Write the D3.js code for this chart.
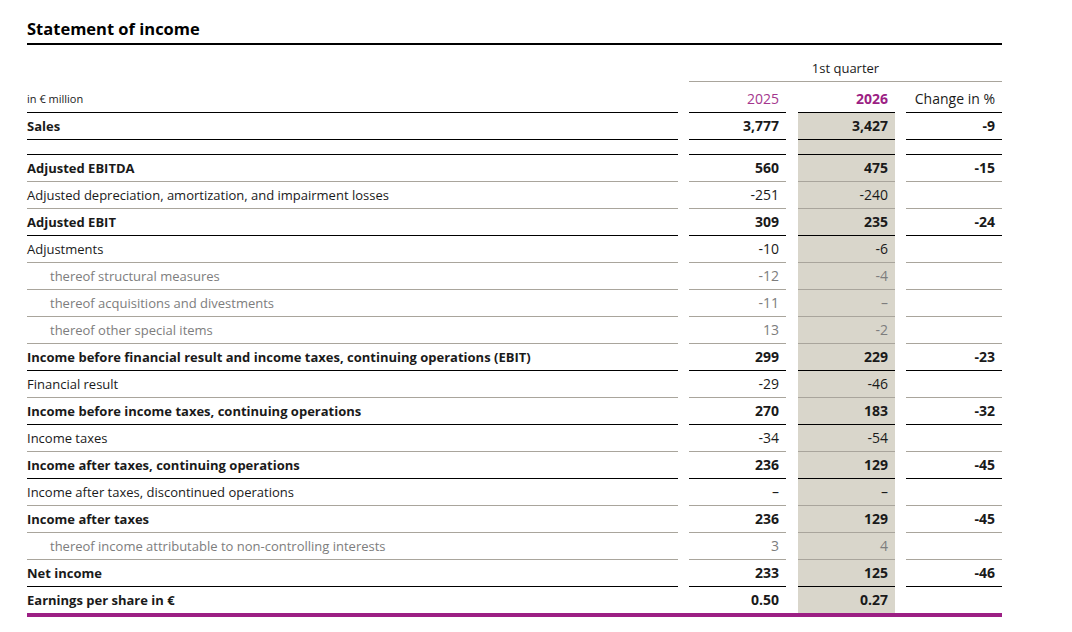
<!DOCTYPE html>
<html>
<head>
<meta charset="utf-8">
<script src="https://cdn.jsdelivr.net/npm/d3@7"></script>
<style>
  html, body { margin: 0; padding: 0; background: #fff; }
  svg { display: block; font-family: "Open Sans", sans-serif; }
</style>
</head>
<body>
<svg id="chart" width="1072" height="632"></svg>
<script>
// ---------------- data ----------------
const title = "Statement of income";
const unitLabel = "in € million";
const periodLabel = "1st quarter";
const columnHeaders = ["2025", "2026", "Change in %"];

const labels = [
  "Sales",
  "Adjusted EBITDA",
  "Adjusted depreciation, amortization, and impairment losses",
  "Adjusted EBIT",
  "Adjustments",
  "thereof structural measures",
  "thereof acquisitions and divestments",
  "thereof other special items",
  "Income before financial result and income taxes, continuing operations (EBIT)",
  "Financial result",
  "Income before income taxes, continuing operations",
  "Income taxes",
  "Income after taxes, continuing operations",
  "Income after taxes, discontinued operations",
  "Income after taxes",
  "thereof income attributable to non-controlling interests",
  "Net income",
  "Earnings per share in €"
];
const rowLevel = ["total","total","item","total","item","sub","sub","sub","total","item","total","item","total","item","total","sub","total","total"];
const values2025 = [3777, 560, -251, 309, -10, -12, -11, 13, 299, -29, 270, -34, 236, null, 236, 3, 233, 0.50];
const values2026 = [3427, 475, -240, 235, -6, -4, null, -2, 229, -46, 183, -54, 129, null, 129, 4, 125, 0.27];
const changePct  = [-9, -15, null, -24, null, null, null, null, -23, null, -32, null, -45, null, -45, null, -46, null];

// ---------------- rendering ----------------
const svg = d3.select("#chart");
const left = 27, right = 1002;
const C = { text: "#1a1a1a", gray: "#7d7d7d", rule: "#a9a59c", black: "#000", purple: "#9c1f84", purpleLight: "#a4368d", shade: "#d9d6cb" };

const cols = [
  { key: "label", x0: left, x1: 678 },
  { key: "y2025", x0: 689, x1: 786 },
  { key: "y2026", x0: 798, x1: 895 },
  { key: "chg",   x0: 906, x1: right }
];
const pad = 7;
const numSize = 14, labelSize = 13;

const rowH = 27;
const yScale = d3.scaleLinear().domain([1, labels.length]).range([154, 154 + (labels.length - 1) * rowH]);
const rowTop = i => i === 0 ? 112 : yScale(i);

const locale = d3.formatLocale({ decimal: ".", thousands: ",", grouping: [3], currency: ["€", ""], minus: "-" });
const fmtInt = locale.format(",d");
const fmtDec = locale.format(".2f");
const fmt = v => v == null ? "–" : (Number.isInteger(v) ? fmtInt(v) : fmtDec(v));

// title
svg.append("text").attr("x", left).attr("y", 35)
  .attr("font-size", 16.5).attr("font-weight", 700).attr("fill", C.black).text(title);
svg.append("line").attr("x1", left).attr("x2", right).attr("y1", 44).attr("y2", 44)
  .attr("stroke", C.black).attr("stroke-width", 2);

// shaded 2026 column
const lastBottom = rowTop(labels.length - 1) + rowH;
svg.append("rect").attr("x", cols[2].x0).attr("y", 112).attr("width", cols[2].x1 - cols[2].x0)
  .attr("height", lastBottom - 112).attr("fill", C.shade);

// period header
svg.append("text").attr("x", (cols[1].x0 + right) / 2).attr("y", 68).attr("dy", "0.35em")
  .attr("text-anchor", "middle").attr("font-size", 13).attr("fill", C.text).text(periodLabel);
svg.append("line").attr("x1", cols[1].x0).attr("x2", right).attr("y1", 81.5).attr("y2", 81.5)
  .attr("stroke", C.rule).attr("stroke-width", 1);

// header row
svg.append("text").attr("x", left).attr("y", 99.5).attr("dy", "0.35em")
  .attr("font-size", 11).attr("fill", C.text).text(unitLabel);
const headerStyle = [
  { fill: C.purpleLight, weight: 400 },
  { fill: C.purple, weight: 700 },
  { fill: C.text, weight: 400 }
];
columnHeaders.forEach((h, k) => {
  svg.append("text").attr("x", cols[k + 1].x1 - pad).attr("y", 99.5).attr("dy", "0.35em")
    .attr("text-anchor", "end").attr("font-size", numSize)
    .attr("font-weight", headerStyle[k].weight).attr("fill", headerStyle[k].fill).text(h);
});

function hrule(y, color, width) {
  cols.forEach(c => {
    svg.append("line").attr("x1", c.x0).attr("x2", c.x1).attr("y1", y).attr("y2", y)
      .attr("stroke", color).attr("stroke-width", width);
  });
}
hrule(112.5, C.black, 1.2);

const blackAfter = new Set([0, 3, 8, 10, 12, 16]);
const rows = labels.map((l, i) => ({ label: l, level: rowLevel[i], a: values2025[i], b: values2026[i], c: changePct[i], i }));

rows.forEach(r => {
  const top = rowTop(r.i);
  const cy = top + rowH / 2 + 1;
  const bold = r.level === "total";
  const fill = r.level === "sub" ? C.gray : C.text;
  const fw = bold ? 700 : 400;
  svg.append("text").attr("x", r.level === "sub" ? 50 : left).attr("y", cy).attr("dy", "0.35em")
    .attr("font-size", labelSize).attr("font-weight", fw).attr("fill", fill).text(r.label);
  [r.a, r.b].forEach((v, k) => {
    svg.append("text").attr("x", cols[k + 1].x1 - pad).attr("y", cy).attr("dy", "0.35em")
      .attr("text-anchor", "end").attr("font-size", numSize).attr("font-weight", fw).attr("fill", fill).text(fmt(v));
  });
  if (r.c != null) {
    svg.append("text").attr("x", cols[3].x1 - pad).attr("y", cy).attr("dy", "0.35em")
      .attr("text-anchor", "end").attr("font-size", numSize).attr("font-weight", fw).attr("fill", fill).text(fmtInt(r.c));
  }
  if (r.i === labels.length - 1) {
    svg.append("line").attr("x1", left).attr("x2", right).attr("y1", top + rowH + 2).attr("y2", top + rowH + 2)
      .attr("stroke", C.purple).attr("stroke-width", 4);
  } else if (r.i === 0) {
    hrule(top + rowH + 0.5, C.black, 1.2);
    hrule(rowTop(1) + 0.5, C.black, 1.2);
  } else {
    const black = blackAfter.has(r.i);
    hrule(top + rowH + 0.5, black ? C.black : C.rule, black ? 1.2 : 1);
  }
});
</script>
</body>
</html>
